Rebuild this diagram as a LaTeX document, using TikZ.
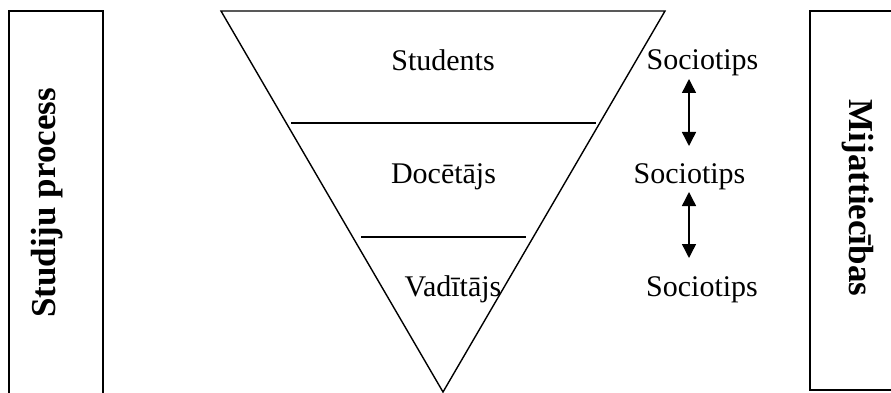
\documentclass[tikz,border=0pt]{standalone}
\usepackage{fontspec}
\setmainfont{Liberation Serif}
\usetikzlibrary{arrows.meta}
\begin{document}
\begin{tikzpicture}[x=1pt,y=-1pt, line width=1.4pt,
  lbl/.style={font=\fontsize{30}{32}\selectfont, inner sep=0pt, anchor=base},
  side/.style={font=\bfseries\fontsize{35}{38}\selectfont, inner sep=0pt},
  dbl/.style={{Triangle[width=14pt,length=14pt]}-{Triangle[width=14pt,length=14pt]}, line width=1.4pt}]
\useasboundingbox (0,0) rectangle (891,393);
\clip (0,0) rectangle (891,393);
% side boxes
\draw (9,400) -- (9,11) -- (103,11) -- (103,400);
\draw (900,11) -- (810,11) -- (810,390) -- (900,390);
\node[side, rotate=90] (sp) at (47,203) {Studiju process};
\node[side, rotate=-90] (mi) at (858,198) {Mijattiecības};
% triangle
\coordinate (tl) at (221,11);
\coordinate (tr) at (665,11);
\coordinate (ap) at (443,392);
\draw (tl) -- (tr) -- (ap) -- cycle;
\coordinate (l1a) at (291,123); \coordinate (l1b) at (596,123);
\coordinate (l2a) at (361,237); \coordinate (l2b) at (526,237);
\draw (l1a) -- (l1b);
\draw (l2a) -- (l2b);
\node[lbl] (stu) at (443,71) {Students};
\node[lbl] (doc) at (443.5,183) {Docētājs};
\node[lbl] (vad) at (453,296) {Vadītājs};
\node[lbl] (s1) at (702.5,70) {Sociotips};
\node[lbl] (s2) at (689.5,183) {Sociotips};
\node[lbl] (s3) at (702,296) {Sociotips};
\coordinate (a1t) at (689,79); \coordinate (a1b) at (689,146);
\coordinate (a2t) at (689,192); \coordinate (a2b) at (689,258);
\draw[dbl] (a1t) -- (a1b);
\draw[dbl] (a2t) -- (a2b);
\end{tikzpicture}
\end{document}
